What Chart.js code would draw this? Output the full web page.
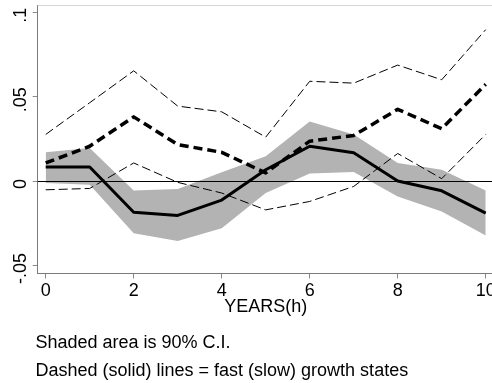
<!DOCTYPE html>
<html>
<head>
<meta charset="utf-8">
<script src="https://cdn.jsdelivr.net/npm/chart.js@4/dist/chart.umd.min.js"></script>
<style>
  html, body { margin: 0; padding: 0; background: #fff; overflow: hidden; }
  #wrap { position: relative; width: 492px; height: 383px; }
  #c { position: absolute; left: 0; top: 0; }
  .note { position: absolute; left: 35.5px; font: 18px/20px "Liberation Sans", Arial, sans-serif; color: #000; white-space: nowrap; }
</style>
</head>
<body>
<div id="wrap">
  <canvas id="c" width="492" height="383"></canvas>
  <div class="note" style="top:331.5px">Shaded area is 90% C.I.</div>
  <div class="note" style="top:359.8px">Dashed (solid) lines = fast (slow) growth states</div>
</div>
<script>
// Horizon in years
const years = [0, 1, 2, 3, 4, 5, 6, 7, 8, 9, 10];

// Slow-growth state response and its 90% band
const slowIrf   = [0.0083, 0.0083, -0.0185, -0.0204, -0.0113, 0.0067, 0.0206, 0.0167, 0.0000, -0.0058, -0.0190];
const slowUpper = [0.0170, 0.0196, -0.0056, -0.0048, 0.0052, 0.0147, 0.0353, 0.0276, 0.0107, 0.0067, -0.0056];
const slowLower = [-0.0012, -0.0022, -0.0310, -0.0355, -0.0280, -0.0071, 0.0044, 0.0054, -0.0091, -0.0180, -0.0323];

// Fast-growth state response and its 90% bounds
const fastIrf   = [0.0107, 0.0206, 0.0380, 0.0216, 0.0170, 0.0048, 0.0236, 0.0270, 0.0425, 0.0310, 0.0573];
const fastUpper = [0.0276, 0.0464, 0.0653, 0.0444, 0.0410, 0.0260, 0.0591, 0.0580, 0.0687, 0.0600, 0.0897];
const fastLower = [-0.0052, -0.0044, 0.0107, -0.0008, -0.0071, -0.0171, -0.0121, -0.0032, 0.0163, 0.0014, 0.0276];

// Axis ticks
const xTicks = [0, 2, 4, 6, 8, 10];
const yTicks = [-0.05, 0, 0.05, 0.1];
const xTitle = 'YEARS(h)';

const pts = arr => arr.map((v, i) => ({ x: years[i], y: v }));
const fmtY = v => (v === 0 ? '0' : String(v).replace('0.', '.'));
const FONT = '18px "Liberation Sans", Arial, sans-serif';
const BAND_INDEX = 4;

const line = (data, width, dash) => ({
  data: pts(data),
  borderColor: '#000',
  borderWidth: width,
  borderDash: dash,
  borderJoinStyle: 'round',
  pointRadius: 0,
  tension: 0,
  fill: false
});

// Outline on top, zero reference line over the band, and axis text
const decor = {
  id: 'decor',
  beforeDatasetsDraw(chart) {
    const { ctx, chartArea: a } = chart;
    ctx.save();
    ctx.strokeStyle = '#d4d4d4';
    ctx.lineWidth = 1;
    ctx.beginPath();
    ctx.moveTo(a.left, Math.round(a.top) + 0.5);
    ctx.lineTo(a.right, Math.round(a.top) + 0.5);
    ctx.stroke();
    ctx.restore();
  },
  afterDatasetDraw(chart, args) {
    if (args.index !== BAND_INDEX) return;
    const { ctx, chartArea: a, scales } = chart;
    const y0 = Math.round(scales.y.getPixelForValue(0)) + 0.5;
    ctx.save();
    ctx.strokeStyle = '#000';
    ctx.lineWidth = 1;
    ctx.beginPath();
    ctx.moveTo(a.left, y0);
    ctx.lineTo(a.right, y0);
    ctx.stroke();
    ctx.restore();
  },
  afterDraw(chart) {
    const { ctx, scales } = chart;
    const xs = scales.x, ys = scales.y;
    ctx.save();
    ctx.fillStyle = '#000';
    ctx.font = FONT;
    ctx.textBaseline = 'alphabetic';
    ctx.textAlign = 'center';
    xTicks.forEach(v => ctx.fillText(String(v), xs.getPixelForValue(v), 296.3));
    yTicks.forEach(v => {
      ctx.save();
      ctx.translate(25.8, ys.getPixelForValue(v) + 3);
      ctx.rotate(-Math.PI / 2);
      ctx.fillText(fmtY(v), 0, 0);
      ctx.restore();
    });
    ctx.fillText(xTitle, (xs.getPixelForValue(0) + xs.getPixelForValue(10)) / 2, 311.7);
    ctx.restore();
  }
};

new Chart(document.getElementById('c'), {
  type: 'line',
  data: {
    datasets: [
      line(slowIrf, 3, []),
      line(fastIrf, 3.5, [9, 5]),
      line(fastUpper, 1, [9, 4]),
      line(fastLower, 1, [9, 4]),
      {
        data: pts(slowUpper),
        borderWidth: 0,
        borderColor: 'rgba(0,0,0,0)',
        backgroundColor: '#b3b3b3',
        pointRadius: 0,
        tension: 0,
        fill: '+1'
      },
      {
        data: pts(slowLower),
        borderWidth: 0,
        borderColor: 'rgba(0,0,0,0)',
        pointRadius: 0,
        tension: 0,
        fill: false
      }
    ]
  },
  options: {
    responsive: false,
    animation: false,
    devicePixelRatio: 1,
    layout: { autoPadding: false, padding: { top: 5, left: 0, right: 0, bottom: 0 } },
    plugins: { legend: { display: false }, tooltip: { enabled: false } },
    scales: {
      x: {
        type: 'linear',
        min: -0.182,
        max: 10.143,
        afterBuildTicks: s => { s.ticks = xTicks.map(v => ({ value: v })); },
        afterFit: s => { s.height = 109.5; },
        ticks: { display: false },
        grid: { drawOnChartArea: false, drawTicks: true, tickLength: 5, color: '#8a8a8a', lineWidth: 1 },
        border: { display: true, color: '#7a7a7a', width: 1 }
      },
      y: {
        type: 'linear',
        min: -0.0548,
        max: 0.1043,
        afterBuildTicks: s => { s.ticks = yTicks.map(v => ({ value: v })); },
        afterFit: s => { s.width = 37.7; },
        ticks: { display: false },
        grid: { drawOnChartArea: false, drawTicks: true, tickLength: 5, color: '#8a8a8a', lineWidth: 1 },
        border: { display: true, color: '#7a7a7a', width: 1 }
      }
    }
  },
  plugins: [decor]
});
</script>
</body>
</html>
